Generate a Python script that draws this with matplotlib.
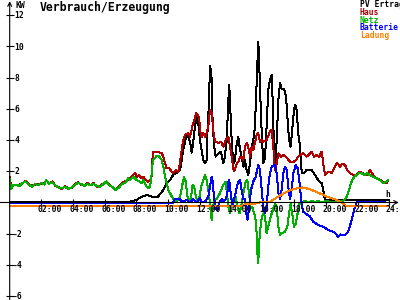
import numpy as np
import matplotlib.pyplot as plt

plt.rcParams['font.family'] = 'DejaVu Sans Mono'

# Tagesverlauf, Stunde / kW
pv_h = [0.0, 7.4, 7.6, 8.0, 8.3, 8.65, 9.0, 9.35, 9.55, 9.7, 9.95, 10.15, 10.35, 10.6,
        10.77, 10.88, 10.97, 11.13, 11.25, 11.4, 11.5, 11.56, 11.71, 11.82, 11.92, 12.03,
        12.24, 12.35, 12.45, 12.5, 12.6, 12.66, 12.72, 12.77, 12.8, 12.87, 12.93, 13.02,
        13.19, 13.36, 13.5, 13.6, 13.72, 13.82, 13.88, 13.94, 14.03, 14.13, 14.24, 14.35,
        14.45, 14.56, 14.66, 14.77, 14.87, 14.98, 15.08, 15.19, 15.3, 15.4, 15.5, 15.61,
        15.68, 15.71, 15.75, 15.82, 15.93, 16.03, 16.14, 16.24, 16.34, 16.45, 16.56, 16.62,
        16.7, 16.77, 16.88, 16.98, 17.09, 17.19, 17.34, 17.47, 17.55, 17.66, 17.76, 17.86,
        17.97, 18.05, 18.14, 18.24, 18.35, 18.46, 18.56, 18.67, 18.77, 18.98, 19.09, 19.3,
        19.5, 19.72, 19.82, 19.93, 20.0, 24.0]
pv_kw = [0.0, 0.0, 0.05, 0.15, 0.35, 0.48, 0.37, 0.35, 0.6, 0.8, 1.25, 1.45, 1.8, 1.9,
         2.1, 2.75, 3.4, 4.1, 4.3, 3.9, 3.2, 3.55, 4.86, 5.55, 5.1, 4.0,
         2.72, 2.53, 2.72, 4.44, 6.57, 8.75, 8.5, 7.85, 5.9, 4.4, 3.58, 2.94,
         3.15, 3.26, 2.5, 2.94, 4.0, 6.57, 7.53, 6.14, 4.0, 2.5, 2.72, 3.8,
         4.2, 3.37, 2.94, 2.3, 2.72, 2.08, 1.76, 2.5, 3.58, 4.0, 4.86, 7.64,
         9.56, 10.27, 9.6, 7.4, 4.44, 2.5, 2.9, 4.86, 7.2, 7.85, 8.17, 6.57,
         3.8, 2.3, 4.0, 6.57, 7.64, 7.3, 7.3, 6.8, 5.5, 4.0, 3.58, 4.65,
         5.93, 6.25, 5.93, 4.44, 3.58, 1.87, 1.87, 1.97, 2.08, 2.1, 2.08, 1.76,
         1.44, 1.23, 0.8, 0.16, 0.15, 0.15]

haus_h = [0.0, 0.1, 0.2, 0.4, 0.6, 0.8, 1.0, 1.2, 1.4, 1.6, 1.8, 2.0, 2.2, 2.3, 2.5, 2.7,
          2.9, 3.1, 3.3, 3.5, 3.7, 3.9, 4.1, 4.3, 4.5, 4.7, 4.9, 5.1, 5.3, 5.5, 5.7, 5.9,
          6.1, 6.3, 6.5, 6.7, 6.9, 7.1, 7.3, 7.6, 7.81, 7.92, 8.03, 8.17, 8.34, 8.45,
          8.6, 8.76, 8.91, 9.0, 9.04, 9.29, 9.61, 9.71, 9.82, 9.92, 10.09, 10.24, 10.34,
          10.5, 10.66, 10.76, 10.87, 10.97, 11.08, 11.29, 11.4, 11.54, 11.67, 11.78, 11.88,
          11.98, 12.03, 12.13, 12.24, 12.35, 12.45, 12.55, 12.66, 12.77, 12.83, 12.91,
          13.02, 13.19, 13.36, 13.5, 13.65, 13.82, 13.93, 14.03, 14.13, 14.2, 14.3, 14.35,
          14.45, 14.56, 14.66, 14.77, 14.87, 14.98, 15.08, 15.19, 15.3, 15.4, 15.5, 15.61,
          15.71, 15.82, 15.93, 16.03, 16.24, 16.45, 16.56, 16.66, 16.77, 16.88, 16.98,
          17.13, 17.3, 17.47, 17.61, 17.76, 17.93, 18.09, 18.24, 18.35, 18.52, 18.67,
          18.77, 18.94, 19.09, 19.24, 19.41, 19.57, 19.72, 19.82, 19.93, 20.14, 20.35,
          20.56, 20.7, 20.88, 21.02, 21.2, 21.34, 21.51, 21.72, 21.93, 22.14, 22.35, 22.57,
          22.77, 22.98, 23.19, 23.4, 23.62, 23.83, 23.93]
haus_kw = [1.6, 0.95, 1.15, 1.1, 1.15, 1.2, 1.4, 1.2, 1.05, 1.15, 1.2, 1.2, 1.25, 1.4, 1.25, 1.35,
           1.05, 1.0, 0.85, 1.05, 0.95, 0.9, 1.15, 1.3, 1.15, 1.1, 1.25, 1.1, 1.25, 1.0, 1.05, 1.2,
           1.3, 1.15, 0.95, 0.85, 1.0, 1.25, 1.35, 1.55, 1.76, 1.9, 1.65, 1.76, 1.55, 1.65,
           1.44, 1.33, 1.44, 1.87, 3.26, 3.26, 3.15, 2.94, 2.5, 2.19, 2.19, 1.97, 1.87,
           2.08, 1.97, 2.5, 3.37, 4.0, 4.33, 4.44, 4.2, 4.86, 5.3, 5.73, 5.6,
           5.4, 4.65, 4.2, 4.44, 4.2, 4.44, 4.86, 5.93, 5.73, 5.1, 4.2,
           3.9, 3.8, 3.9, 3.58, 4.0, 4.2, 3.58, 2.94, 2.2, 2.0, 2.3, 2.5,
           2.6, 2.94, 2.94, 2.72, 3.58, 3.8, 3.58, 2.94, 3.58, 3.37, 3.8, 4.33,
           4.44, 3.9, 4.0, 3.9, 4.0, 4.54, 4.65, 3.58, 2.08, 2.5, 3.15,
           2.94, 3.04, 2.94, 2.72, 2.6, 2.6, 2.72, 2.94, 3.04, 3.15, 3.04,
           2.94, 3.1, 3.26, 2.94, 3.04, 2.94, 3.26, 2.5, 1.76, 1.97, 1.9,
           2.3, 2.55, 2.3, 2.5, 2.4, 2.08, 1.87, 1.76, 1.8, 1.97, 1.87, 1.76,
           2.08, 1.76, 1.55, 1.44, 1.33, 1.27, 1.44]

netz_h = [0.0, 0.1, 0.2, 0.4, 0.6, 0.8, 1.0, 1.2, 1.4, 1.6, 1.8, 2.0, 2.2, 2.3, 2.5, 2.7,
          2.9, 3.1, 3.3, 3.5, 3.7, 3.9, 4.1, 4.3, 4.5, 4.7, 4.9, 5.1, 5.3, 5.5, 5.7, 5.9,
          6.1, 6.3, 6.5, 6.7, 6.9, 7.1, 7.3, 7.5, 7.6, 7.81, 8.03, 8.24, 8.34, 8.45, 8.6,
          8.75, 8.88, 8.95, 9.05, 9.3, 9.45, 9.61, 9.71, 9.82, 9.92, 10.03, 10.13, 10.24,
          10.34, 10.55, 10.76, 10.91, 11.02, 11.13, 11.23, 11.33, 11.46, 11.56, 11.67,
          11.78, 11.88, 11.98, 12.1, 12.35, 12.45, 12.6, 12.7, 12.77, 12.83, 12.98, 13.08,
          13.29, 13.5, 13.65, 13.76, 13.82, 13.93, 14.03, 14.13, 14.28, 14.41, 14.52,
          14.62, 14.77, 14.92, 15.02, 15.12, 15.23, 15.33, 15.46, 15.55, 15.61, 15.68,
          15.71, 15.78, 15.87, 15.95, 16.03, 16.14, 16.24, 16.34, 16.45, 16.56, 16.66,
          16.77, 16.88, 16.98, 17.09, 17.19, 17.4, 17.55, 17.66, 17.76, 17.86, 17.97,
          18.08, 18.2, 18.3, 18.46, 18.67, 18.88, 19.09, 19.3, 19.5, 19.72, 20.04, 20.3,
          20.56, 20.77, 21.09, 21.3, 21.45, 21.57, 21.66, 21.78, 21.93, 22.08, 22.25,
          22.42, 22.57, 22.77, 22.98, 23.19, 23.4, 23.62, 23.79, 23.93]
netz_kw = [1.5, 0.85, 1.1, 1.15, 1.05, 1.25, 1.35, 1.15, 1.0, 1.2, 1.1, 1.25, 1.15, 1.45, 1.2, 1.3,
           1.1, 0.95, 0.9, 1.0, 0.88, 0.95, 1.1, 1.25, 1.2, 1.05, 1.2, 1.1, 1.2, 1.05, 1.0, 1.15,
           1.35, 1.1, 1.0, 0.8, 0.95, 1.2, 1.25, 1.55, 1.44, 1.65, 1.44, 1.33, 1.23, 1.44, 1.1,
           0.9, 1.05, 1.6, 2.7, 3.0, 2.95, 2.72, 2.3, 1.65, 1.23, 0.8, 0.6, 0.4,
           0.2, 0.1, 0.3, 1.12, 1.65, 1.33, 0.4, 0.1, 0.3, 1.12, 1.0,
           0.3, 0.1, 0.3, 1.0, 1.76, 1.44, 0.5, -0.5, -1.12, -0.3, 0.2, 0.2,
           0.6, 1.12, 1.33, 0.37, -0.3, -0.7, -0.3, 0.2, 0.37, -0.3, -0.7,
           -0.3, 0.6, 1.33, 1.44, 0.6, -0.3, -0.3, -0.7, -1.12, -1.97, -3.69,
           -3.9, -2.4, -1.4, -0.9, -0.7, -0.9, -1.97, -1.55, -1.1, -0.7, -0.4,
           -0.1, -0.3, -1.55, -2.08, -1.97, -1.9, -1.55, -0.7, -0.1, -0.7, -1.55,
           -1.35, -0.7, -0.1, 0.0, 0.1, 0.0, 0.1, 0.0, 0.1, 0.0, 0.1, 0.0,
           0.05, 0.1, 0.1, 0.37, 0.8, 1.23, 1.44, 1.65, 1.76, 1.9, 1.87,
           1.76, 1.87, 1.76, 1.65, 1.55, 1.44, 1.23, 1.33, 1.44]

batt_h = [0.0, 10.3, 10.45, 10.7, 10.9, 11.2, 11.4, 11.6, 11.8, 12.03, 12.13, 12.35, 12.55,
          12.66, 12.77, 12.83, 12.91, 13.02, 13.12, 13.25, 13.4, 13.52, 13.65, 13.76, 13.82,
          13.88, 13.97, 14.07, 14.18, 14.28, 14.41, 14.56, 14.66, 14.77, 14.87, 14.98,
          15.04, 15.12, 15.25, 15.4, 15.55, 15.71, 15.82, 15.93, 16.03, 16.14, 16.24,
          16.34, 16.45, 16.56, 16.77, 16.88, 16.98, 17.09, 17.19, 17.3, 17.4, 17.51,
          17.61, 17.72, 17.82, 17.93, 18.08, 18.2, 18.3, 18.39, 18.48, 18.56, 18.77,
          18.98, 19.19, 19.5, 19.82, 20.14, 20.45, 20.6, 20.77, 20.9, 20.98, 21.2, 21.4,
          21.62, 21.72, 21.83, 21.93, 23.7]
batt_kw = [-0.05, -0.05, 0.25, 0.25, 0.05, 0.15, 0.0, 0.2, 0.0, 0.27, 0.0, 0.05, 0.37,
           1.0, 1.65, 1.35, 0.37, -0.37, -0.47, 0.0, 0.2, 0.1, 0.2, 0.6, 1.33,
           1.44, 0.6, -0.15, 0.2, 0.6, 1.23, 1.44, 0.8, 0.2, 0.2, -0.9,
           -1.1, -0.47, 0.8, 1.35, 1.65, 2.4, 2.08, 0.8, -0.27, -0.68, -0.27,
           1.0, 1.87, 2.3, 2.4, 1.87, 0.6, 0.2, 0.8, 1.87, 2.3, 2.08,
           1.0, 0.2, 0.8, 1.87, 2.4, 2.2, 1.44, 0.6, -0.27, -0.6, -0.75,
           -0.9, -1.23, -1.44, -1.55, -1.76, -1.87, -2.0, -2.19, -2.05, -2.1, -2.1, -1.87,
           -1.12, -0.7, -0.27, 0.05, 0.05]

lad_h = [0.0, 14.6, 14.9, 15.5, 16.0, 16.45, 17.09, 17.72, 18.2, 18.5, 18.98, 19.5,
         20.04, 20.56, 20.98, 21.2, 21.4, 23.93]
lad_kw = [-0.24, -0.24, -0.1, -0.08, 0.05, 0.05, 0.45, 0.78, 0.92, 0.97, 0.85, 0.63,
          0.38, 0.2, 0.0, -0.2, -0.24, -0.24]

names = ["PV Ertrag", "Haus", "Netz", "Batterie", "Ladung"]
colors = ["black", "#b00000", "#00b000", "#0000ff", "#ff8000"]
x_ticks = [2, 4, 6, 8, 10, 12, 14, 16, 18, 20, 22, 24]
x_labels = ["02:00", "04:00", "06:00", "08:00", "10:00", "12:00",
            "14:00", "16:00", "18:00", "20:00", "22:00", "24:00"]
y_ticks = [-6, -4, -2, 2, 4, 6, 8, 10, 12]

fig = plt.figure(figsize=(4, 3), dpi=100)
ax = fig.add_axes([0, 0, 1, 1])
ax.set_xlim(-0.613, 24.672)
ax.set_ylim(-6.25, 12.98)
ax.axis('off')

# Achsen mit Pfeilen
ax.annotate('', xy=(24.6, 0), xytext=(-0.613, 0),
            arrowprops=dict(arrowstyle='->', color='black', lw=0.8, shrinkA=0, shrinkB=0, mutation_scale=7))
ax.annotate('', xy=(0, 12.9), xytext=(0, -6.25),
            arrowprops=dict(arrowstyle='->', color='black', lw=0.8, shrinkA=0, shrinkB=0, mutation_scale=7))
ax.plot(np.zeros(len(y_ticks)), y_ticks, ls='none', marker='_', ms=6, mew=0.8, color='black')
ax.plot(x_ticks, np.zeros(len(x_ticks)), ls='none', marker='|', ms=4, mew=0.8, color='black')

series = [(pv_h, pv_kw), (haus_h, haus_kw), (netz_h, netz_kw), (batt_h, batt_kw), (lad_h, lad_kw)]
for (h, kw), c in zip(series, colors):
    ax.plot(h, kw, color=c, lw=0.72, antialiased=False)

def fx(px):
    return px / 400

def fy(py):
    return 1 - py / 300

# Texte sind wie im Original an den Raendern abgeschnitten ("24:00", "PV Ertrag")
for t, lab in zip(x_ticks, x_labels):
    px = 9.7 + 15.82 * t
    fig.text(fx(px - 3.6), fy(212.5), lab, fontsize=5.8, fontweight='bold', va='baseline', ha='left')

for v in y_ticks:
    py = 202.5 - 15.6 * v
    fig.text(fx(14.5 if v > 0 else 13.3), fy(py + 3), str(v), fontsize=5.8, fontweight='bold',
             va='baseline', ha='left')

fig.text(fx(15), fy(8), "KW", fontsize=5.8, fontweight='bold', va='baseline', ha='left')
fig.text(fx(385.5), fy(197), "h", fontsize=5.8, fontweight='bold', va='baseline', ha='left')
fig.text(fx(40), fy(11.5), "Verbrauch/Erzeugung", fontsize=8.3, fontweight='bold', va='baseline', ha='left')

for i, (n, c) in enumerate(zip(names, colors)):
    fig.text(fx(360), fy(7.3 + 7.7 * i), n, fontsize=5.8, fontweight='bold', color=c,
             va='baseline', ha='left')

fig.savefig('out.png', dpi=100)
